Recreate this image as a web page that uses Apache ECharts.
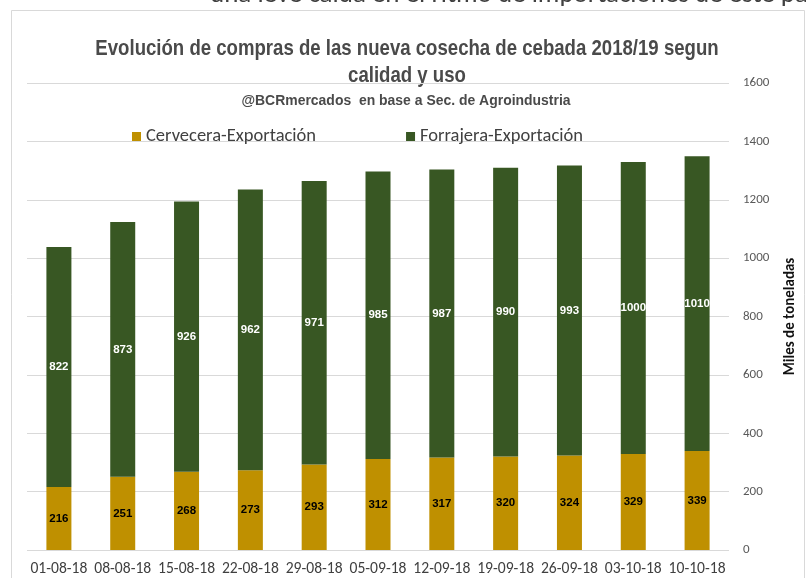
<!DOCTYPE html>
<html>
<head>
<meta charset="utf-8">
<script src="https://cdn.jsdelivr.net/npm/echarts@6/dist/echarts.min.js"></script>
<style>html,body{margin:0;padding:0;background:#fff;}#c{width:806px;height:578px;}</style>
</head>
<body>
<div id="c"></div>
<script>
const categories = ['01-08-18','08-08-18','15-08-18','22-08-18','29-08-18','05-09-18','12-09-18','19-09-18','26-09-18','03-10-18','10-10-18'];
const cervecera = [216,251,268,273,293,312,317,320,324,329,339];
const forrajera = [822,873,926,962,971,985,987,990,993,1000,1010];
const seriesNames = ['Cervecera-Exportación','Forrajera-Exportación'];
const titleLines = ['Evolución de compras de las nueva cosecha de cebada 2018/19 segun','calidad y uso'];
const subtitle = '@BCRmercados  en base a Sec. de Agroindustria';
const topText = 'una leve caída en el ritmo de importaciones de este país';

const chart = echarts.init(document.getElementById('c'), null, {renderer:'canvas'});
const sans = '"Liberation Sans", Arial, sans-serif';
const body = 'Carlito, Calibri, "Open Sans", "Noto Sans", sans-serif';
chart.setOption({
  animation:false,
  backgroundColor:'#ffffff',
  graphic:[
    {type:'rect', shape:{x:11.5,y:10.5,width:793,height:580}, style:{fill:'none', stroke:'#d9d9d9', lineWidth:1}, z:-1},
    {type:'text', x:210, y:-18, style:{text:topText, fill:'#404040', font:'27px '+body, textVerticalAlign:'top'}},
    {type:'text', x:407, y:49, scaleX:0.865, style:{text:titleLines[0], fill:'#4a4a4a', font:'bold 21.5px '+sans, textAlign:'center', textVerticalAlign:'middle'}},
    {type:'text', x:407, y:76, scaleX:0.865, style:{text:titleLines[1], fill:'#4a4a4a', font:'bold 21.5px '+sans, textAlign:'center', textVerticalAlign:'middle'}},
    {type:'text', x:406, y:101, scaleX:0.93, style:{text:subtitle, fill:'#4a4a4a', font:'bold 15px '+sans, textAlign:'center', textVerticalAlign:'middle'}}
  ],
  legend:{
    data:seriesNames, top:122, left:127, itemWidth:9, itemHeight:9, itemGap:90, icon:'rect',
    textStyle:{fontFamily:body, fontSize:18.5, color:'#404040', padding:[0,0,0,0]}
  },
  grid:{left:27, right:68, top:83, bottom:28},
  xAxis:{
    type:'category', data:categories,
    axisLine:{show:false}, axisTick:{show:false},
    axisLabel:{fontFamily:body, fontSize:15.6, color:'#404040', margin:11, interval:0}
  },
  yAxis:{
    type:'value', position:'right', min:0, max:1600, interval:200,
    name:'Miles de toneladas', nameLocation:'middle', nameGap:54, nameRotate:90,
    nameTextStyle:{fontFamily:body, fontSize:15, fontWeight:'bold', color:'#111'},
    axisLine:{show:false}, axisTick:{show:false},
    axisLabel:{fontFamily:body, fontSize:13, color:'#595959', margin:14, formatter:function(v){return String(v);}},
    splitLine:{lineStyle:{color:'#d9d9d9', width:1}}
  },
  series:[
    {name:seriesNames[0], type:'bar', stack:'s', data:cervecera, barWidth:25,
     itemStyle:{color:'#bf9000'},
     label:{show:true, position:'inside', color:'#000', fontFamily:sans, fontWeight:'bold', fontSize:11.5}},
    {name:seriesNames[1], type:'bar', stack:'s', data:forrajera, barWidth:25,
     itemStyle:{color:'#385723'},
     label:{show:true, position:'inside', color:'#fff', fontFamily:sans, fontWeight:'bold', fontSize:11.5}}
  ]
});
</script>
</body>
</html>
